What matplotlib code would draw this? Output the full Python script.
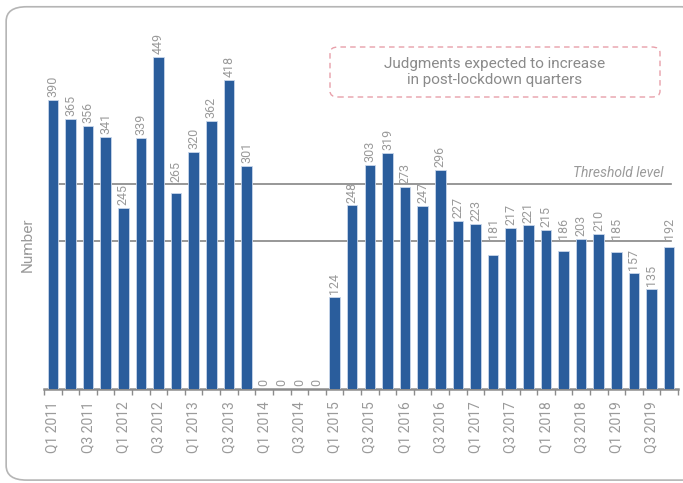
import matplotlib
matplotlib.use("Agg")
import matplotlib.pyplot as plt
from matplotlib.patches import FancyBboxPatch
from matplotlib.ticker import FixedLocator

plt.rcParams['font.family'] = ['Roboto', 'DejaVu Sans']

quarters = [f"Q{q} {y}" for y in range(2011, 2020) for q in (1, 2, 3, 4)]
judgments = [390, 365, 356, 341, 245, 339, 449, 265, 320, 362, 418, 301,
             0, 0, 0, 0,
             124, 248, 303, 319, 273, 247, 296, 227, 223, 181, 217, 221,
             215, 186, 203, 210, 185, 157, 135, 192]
threshold_upper = 277
threshold_lower = 200
note_text = "Judgments expected to increase\nin post-lockdown quarters"

bar_color = "#2a5d9c"
grey = "#9a9a9a"

fig = plt.figure(figsize=(6.83, 4.83), dpi=100)

# rounded outer frame
frame = FancyBboxPatch((0.009, 0.006), 1.02, 0.98, transform=fig.transFigure,
                       boxstyle="round,pad=0,rounding_size=0.03",
                       fill=False, edgecolor="#b5b5b5", linewidth=1.2)
fig.patches.append(frame)

ax = fig.add_axes([0.0644, 0.1946, 0.9283, 0.766])
x = list(range(len(judgments)))
ax.bar(x, judgments, width=0.6, color=bar_color, edgecolor="#c8d6ea",
       linewidth=0.6, zorder=3)

# value labels; a label that would cross a threshold line sits just above it
label_span = 24
for xi, v in zip(x, judgments):
    bottom = v + 4
    for level in (threshold_upper, threshold_lower):
        if bottom < level < bottom + label_span:
            bottom = level + 3
    ax.text(xi, bottom, str(v), rotation=90, ha="center", va="bottom",
            fontsize=9, color=grey, zorder=4)

for level in (threshold_upper, threshold_lower):
    ax.plot([0, 35.1], [level, level], color="#858585", linewidth=1.2, zorder=2)
ax.text(34.65, threshold_upper + 5, "Threshold level", ha="right", va="bottom",
        fontsize=10, style="italic", color=grey)

ax.set_xlim(-0.5, len(judgments) - 0.5)
ax.set_ylim(0, 500)
ax.set_yticks([])
for s in ("top", "right", "left"):
    ax.spines[s].set_visible(False)
ax.spines["bottom"].set_color("#8c8c8c")
ax.spines["bottom"].set_linewidth(1.8)

ax.set_xticks(x[::2])
ax.set_xticklabels(quarters[::2], rotation=90, fontsize=10, color=grey)
ax.tick_params(axis="x", which="major", length=0, pad=9)
ax.xaxis.set_minor_locator(FixedLocator([i - 0.5 for i in range(len(judgments) + 1)]))
ax.tick_params(axis="x", which="minor", length=4, width=1, color="#8c8c8c")

ax.set_ylabel("Number", fontsize=11, color=grey)
ax.yaxis.set_label_coords(-0.015, 0.39)

# note box
note_box = FancyBboxPatch((330 / 683, 1 - 97 / 483), 330 / 683, 50 / 483,
                          transform=fig.transFigure,
                          boxstyle="round,pad=0,rounding_size=0.012",
                          fill=False, edgecolor="#e8a0aa", linewidth=1,
                          linestyle=(0, (4, 3)))
fig.patches.append(note_box)
fig.text(495 / 683, 1 - 72 / 483, note_text, ha="center", va="center",
         fontsize=11, color="#8a8a8a", linespacing=1.25)

fig.savefig("out.png", dpi=100)
